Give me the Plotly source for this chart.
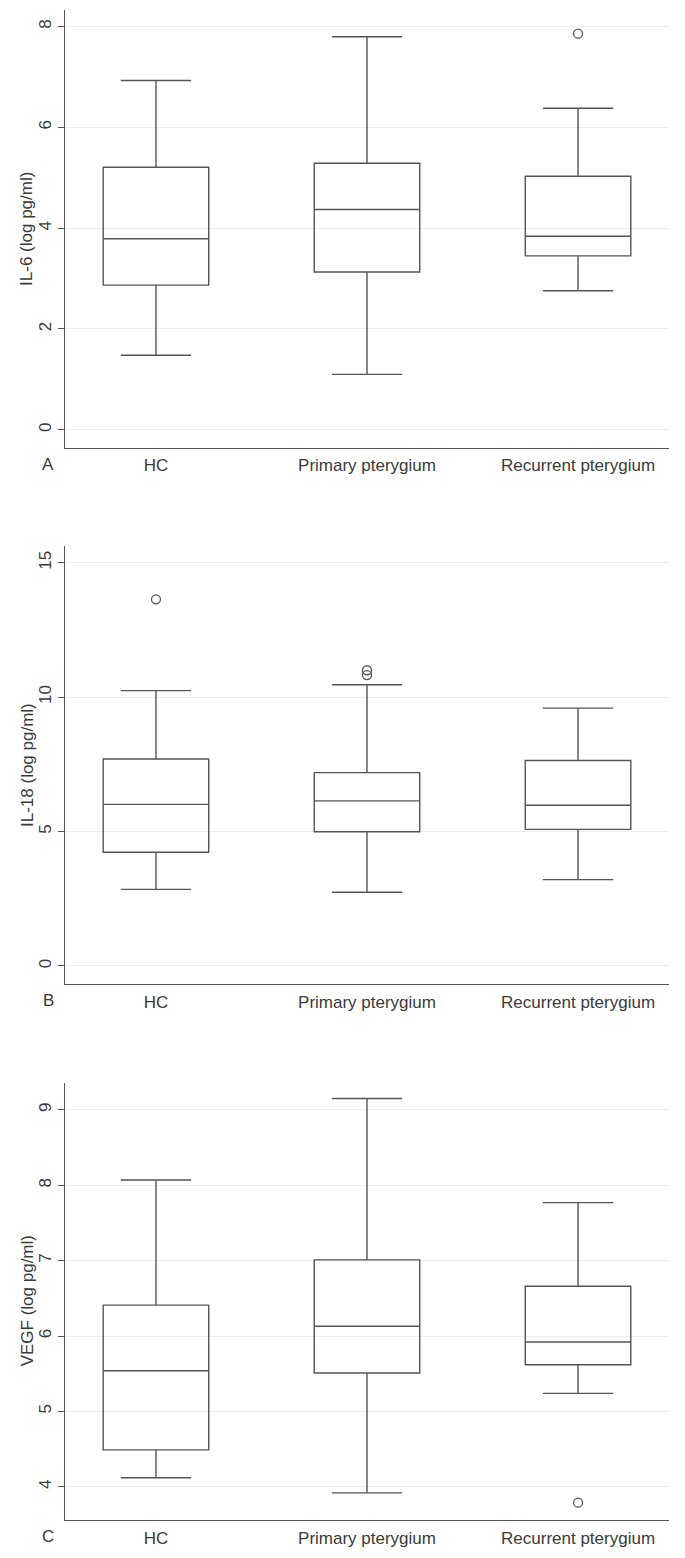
import plotly.graph_objects as go

categories = ["HC", "Primary pterygium", "Recurrent pterygium"]

# Panel A: IL-6
il6_lower = [1.48, 1.10, 2.76]
il6_q1 = [2.87, 3.13, 3.45]
il6_median = [3.79, 4.37, 3.84]
il6_q3 = [5.21, 5.29, 5.03]
il6_upper = [6.93, 7.80, 6.38]
il6_out_x = ["Recurrent pterygium"]
il6_out_y = [7.86]

# Panel B: IL-18
il18_lower = [2.85, 2.74, 3.21]
il18_q1 = [4.23, 4.99, 5.08]
il18_median = [6.01, 6.14, 5.98]
il18_q3 = [7.70, 7.19, 7.64]
il18_upper = [10.24, 10.46, 9.59]
il18_out_x = ["HC", "Primary pterygium", "Primary pterygium"]
il18_out_y = [13.64, 11.00, 10.82]

# Panel C: VEGF
vegf_lower = [4.12, 3.92, 5.24]
vegf_q1 = [4.49, 5.51, 5.62]
vegf_median = [5.54, 6.13, 5.92]
vegf_q3 = [6.41, 7.01, 6.66]
vegf_upper = [8.07, 9.15, 7.77]
vegf_out_x = ["Recurrent pterygium"]
vegf_out_y = [3.79]

panels = [
    dict(lo=il6_lower, q1=il6_q1, med=il6_median, q3=il6_q3, hi=il6_upper,
         ox=il6_out_x, oy=il6_out_y, title="IL-6 (log pg/ml)", letter="A",
         yrange=[-0.36, 8.33], ticks=[0, 2, 4, 6, 8], dom=[0.710, 1.0]),
    dict(lo=il18_lower, q1=il18_q1, med=il18_median, q3=il18_q3, hi=il18_upper,
         ox=il18_out_x, oy=il18_out_y, title="IL-18 (log pg/ml)", letter="B",
         yrange=[-0.67, 15.62], ticks=[0, 5, 10, 15], dom=[0.355, 0.645]),
    dict(lo=vegf_lower, q1=vegf_q1, med=vegf_median, q3=vegf_q3, hi=vegf_upper,
         ox=vegf_out_x, oy=vegf_out_y, title="VEGF (log pg/ml)", letter="C",
         yrange=[3.56, 9.36], ticks=[4, 5, 6, 7, 8, 9], dom=[0.0, 0.2896]),
]

LINE = "#555555"
TEXT = "#3a3a3a"
FONT = "Liberation Sans, Arial, sans-serif"

fig = go.Figure()
layout = {}
annotations = []
for i, p in enumerate(panels, start=1):
    xa = "x" if i == 1 else f"x{i}"
    ya = "y" if i == 1 else f"y{i}"
    fig.add_trace(go.Box(
        x=categories, q1=p["q1"], median=p["med"], q3=p["q3"],
        lowerfence=p["lo"], upperfence=p["hi"],
        width=0.5, whiskerwidth=0.667, boxpoints=False,
        fillcolor="rgba(255,255,255,0)",
        line=dict(color=LINE, width=1.4),
        xaxis=xa, yaxis=ya, showlegend=False, hoverinfo="skip",
    ))
    fig.add_trace(go.Scatter(
        x=p["ox"], y=p["oy"], mode="markers",
        marker=dict(symbol="circle-open", size=9, color=LINE, line=dict(width=1.3)),
        xaxis=xa, yaxis=ya, showlegend=False, hoverinfo="skip",
    ))
    xkey = "xaxis" if i == 1 else f"xaxis{i}"
    ykey = "yaxis" if i == 1 else f"yaxis{i}"
    layout[xkey] = dict(
        domain=[0, 1], anchor=ya, type="category", automargin=False,
        categoryorder="array", categoryarray=categories,
        range=[-0.431, 2.431], showline=True, linecolor=LINE, linewidth=1.3,
        showgrid=False, zeroline=False,
        ticks="outside", ticklen=2, tickcolor="rgba(0,0,0,0)",
        tickfont=dict(family=FONT, size=17, color=TEXT),
    )
    layout[ykey] = dict(
        domain=p["dom"], anchor=xa, range=p["yrange"], automargin=False,
        tickvals=p["ticks"], tickangle=-90,
        showline=True, linecolor=LINE, linewidth=1.3,
        ticks="outside", ticklen=6, tickcolor=LINE, tickwidth=1.2,
        showgrid=True, gridcolor="#ededed", gridwidth=1.2, zeroline=False,
        tickfont=dict(family=FONT, size=17, color=TEXT),
    )
    annotations.append(dict(
        text=p["title"], xref="paper", yref=f"{ya} domain",
        x=-38 / 604, y=0.5, xanchor="center", yanchor="middle", textangle=-90,
        showarrow=False, font=dict(family=FONT, size=17, color=TEXT),
    ))
    annotations.append(dict(
        text=p["letter"], xref="paper", yref=f"{ya} domain",
        x=-17 / 604, y=-17 / 438, xanchor="center", yanchor="middle",
        showarrow=False, font=dict(family=FONT, size=17, color=TEXT),
    ))

fig.update_layout(
    width=677, height=1550,
    margin=dict(l=57, r=16, t=2, b=38, autoexpand=False),
    paper_bgcolor="white", plot_bgcolor="white",
    annotations=annotations,
    **layout,
)

fig.write_html("out.html")
